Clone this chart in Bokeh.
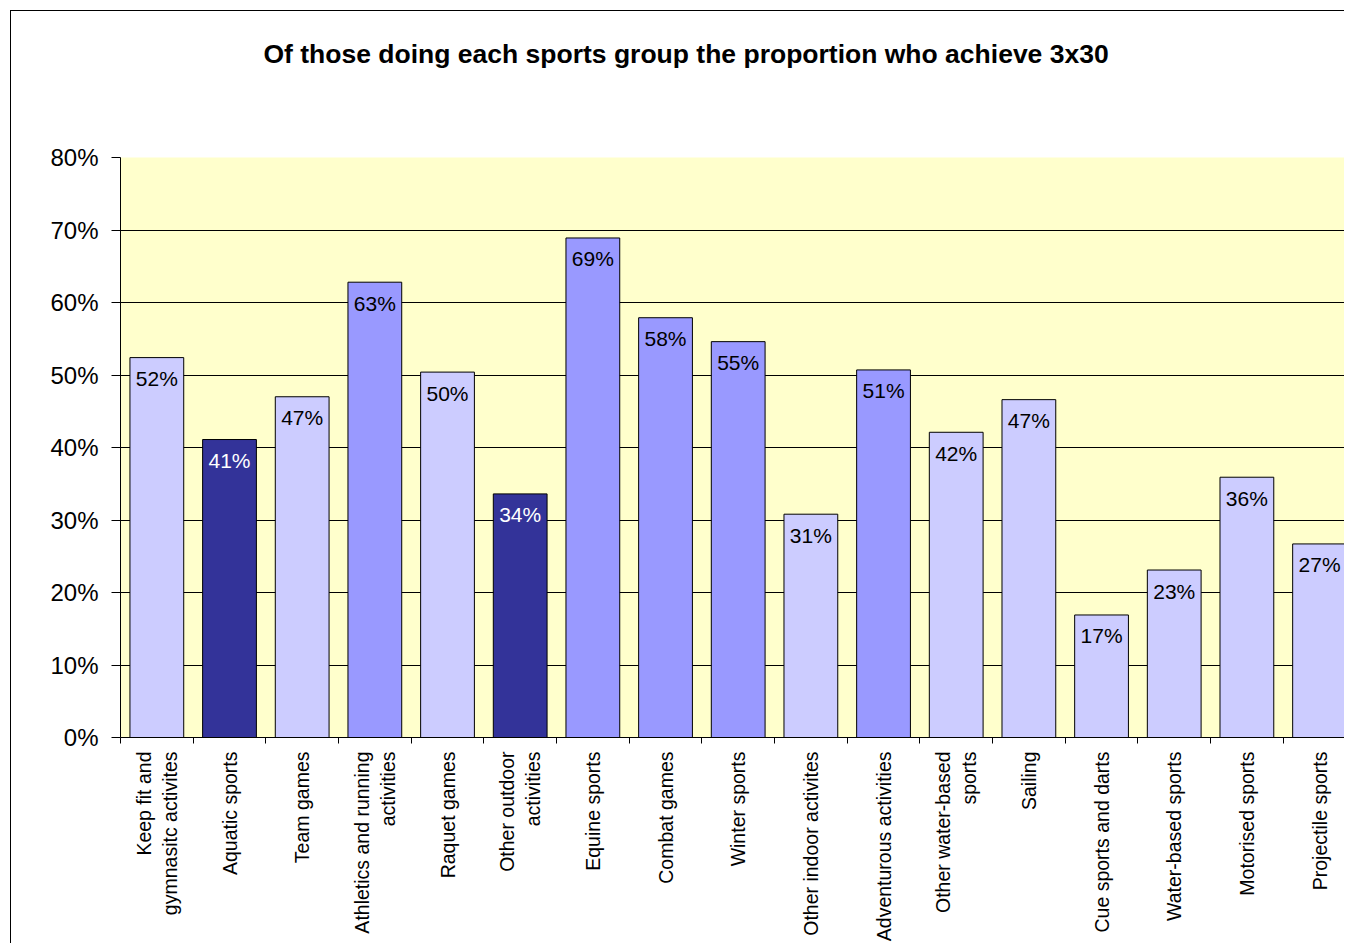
import math
from bokeh.plotting import figure
from bokeh.models import Range1d, FixedTicker, NumeralTickFormatter, ColumnDataSource
from bokeh.core.properties import value
from bokeh.embed import file_html
from bokeh.resources import INLINE

categories = [
    "Keep fit and\ngymnasitc activites",
    "Aquatic sports",
    "Team games",
    "Athletics and running\nactivities",
    "Raquet games",
    "Other outdoor\nactivities",
    "Equine sports",
    "Combat games",
    "Winter sports",
    "Other indoor activites",
    "Adventurous activities",
    "Other water-based\nsports",
    "Sailing",
    "Cue sports and darts",
    "Water-based sports",
    "Motorised sports",
    "Projectile sports",
]
values = [0.524, 0.411, 0.470, 0.628, 0.504, 0.336, 0.689, 0.579, 0.546,
          0.308, 0.507, 0.421, 0.466, 0.169, 0.231, 0.359, 0.267]
groups = ["light", "dark", "light", "medium", "light", "dark", "medium", "medium",
          "medium", "light", "medium", "light", "light", "light", "light", "light", "light"]
y_ticks = [0, 0.1, 0.2, 0.3, 0.4, 0.5, 0.6, 0.7, 0.8]

fill_map = {"light": "#CCCCFF", "medium": "#9999FF", "dark": "#333399"}
text_map = {"light": "#000000", "medium": "#000000", "dark": "#FFFFFF"}

n = len(categories)
centers = [i + 0.5 for i in range(n)]
src = ColumnDataSource(dict(
    x=centers,
    top=values,
    fill=[fill_map[g] for g in groups],
    tcol=[text_map[g] for g in groups],
    label=[f"{round(v * 100)}%" for v in values],
))

FONT = "Liberation Sans"

p = figure(width=1334, height=933, output_backend="svg", toolbar_location=None,
           x_range=Range1d(0, 16.857), y_range=Range1d(0, 0.8),
           min_border_left=109, min_border_right=0, min_border_top=146, min_border_bottom=0)
p.styles = {"border-top": "1px solid #000", "border-left": "1px solid #000",
            "margin-left": "10px", "margin-top": "10px"}
p.background_fill_color = "#FFFFCC"
p.border_fill_color = "#FFFFFF"
p.outline_line_color = None

p.title.text = "Of those doing each sports group the proportion who achieve 3x30"
p.title.text_font = FONT
p.title.text_font_size = "26.5px"
p.title.text_font_style = "bold"
p.title.text_color = "#000000"
p.title.align = "left"
p.title.offset = 143
p.title.standoff = 10
p.title.padding = dict(top=0, right=0, bottom=84, left=0)

p.vbar(x="x", top="top", width=0.74, bottom=0, source=src,
       fill_color="fill", line_color="#000000", line_width=1)
p.text(x="x", y="top", text="label", source=src, text_color="tcol",
       text_font=value(FONT), text_font_size="21px", text_align="center",
       text_baseline="middle", y_offset=21)

# y axis
p.yaxis.ticker = FixedTicker(ticks=y_ticks)
p.yaxis.formatter = NumeralTickFormatter(format="0%")
p.yaxis.major_label_text_font = FONT
p.yaxis.major_label_text_font_size = "24px"
p.yaxis.major_label_text_color = "#000000"
p.yaxis.major_tick_out = 9
p.yaxis.major_tick_in = 0
p.yaxis.minor_tick_line_color = None
p.yaxis.major_label_standoff = 13
p.yaxis.axis_line_color = "#000000"
p.yaxis.major_tick_line_color = "#000000"

# x axis
p.xaxis.ticker = FixedTicker(ticks=centers, minor_ticks=list(range(n + 1)))
p.xaxis.major_label_overrides = {c: lab for c, lab in zip(centers, categories)}
p.xaxis.major_label_orientation = math.pi / 2
p.xaxis.major_label_text_font = FONT
p.xaxis.major_label_text_font_size = "19.5px"
p.xaxis.major_label_text_color = "#000000"
p.xaxis.major_tick_out = 0
p.xaxis.major_tick_in = 0
p.xaxis.minor_tick_out = 6
p.xaxis.minor_tick_in = 0
p.xaxis.minor_tick_line_color = "#000000"
p.xaxis.major_label_standoff = 8
p.xaxis.axis_line_color = "#000000"

p.xgrid.grid_line_color = None
p.ygrid.grid_line_color = "#000000"
p.ygrid.grid_line_width = 1

open("out.html", "w").write(file_html(p, INLINE))
